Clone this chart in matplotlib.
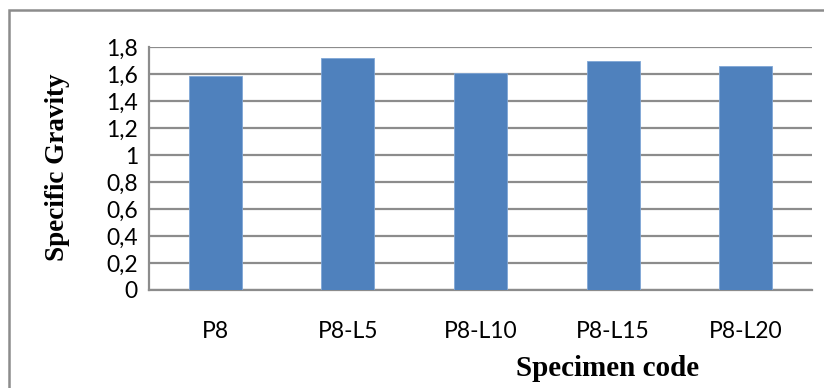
import matplotlib
matplotlib.use("Agg")
import matplotlib.pyplot as plt
from matplotlib.patches import Rectangle

categories = ["P8", "P8-L5", "P8-L10", "P8-L15", "P8-L20"]
values = [1.585, 1.715, 1.61, 1.70, 1.66]
yticks = [0, 0.2, 0.4, 0.6, 0.8, 1.0, 1.2, 1.4, 1.6, 1.8]
ytick_labels = ["0", "0,2", "0,4", "0,6", "0,8", "1", "1,2", "1,4", "1,6", "1,8"]

W, H = 824, 388
fig = plt.figure(figsize=(W / 100, H / 100), dpi=100)
ax = fig.add_axes([149 / W, 1 - 290 / H, (812 - 149) / W, (290 - 47) / H])

x = list(range(len(categories)))
ax.bar(x, values, width=0.40, color="#4f81bd", edgecolor="#7fa6d6", linewidth=0.6, zorder=3)
ax.set_xlim(-0.5, len(categories) - 0.5)
ax.set_ylim(0, 1.8)
ax.set_yticks(yticks)
ax.set_yticklabels(ytick_labels, fontfamily="Lato", fontsize=16.5)
ax.set_xticks(x)
ax.set_xticklabels(categories, fontfamily="Lato", fontsize=16.5)
ax.tick_params(axis="both", length=0)
ax.tick_params(axis="x", pad=22)
ax.tick_params(axis="y", pad=8)
ax.yaxis.grid(True, color="#8c8c8c", linewidth=1.6, zorder=0)
for s in ["top", "right"]:
    ax.spines[s].set_visible(False)
ax.spines["left"].set_color("#8c8c8c")
ax.spines["left"].set_linewidth(1.6)
ax.spines["bottom"].set_color("#8c8c8c")
ax.spines["bottom"].set_linewidth(1.6)

fig.text(57 / W, 1 - 167 / H, "Specific Gravity", rotation=90, ha="center", va="center",
         fontfamily="Liberation Serif", fontweight="bold", fontsize=19.5)
fig.text(608 / W, 1 - 368 / H, "Specimen code", ha="center", va="center",
         fontfamily="Liberation Serif", fontweight="bold", fontsize=21)

fig.patches.append(Rectangle((9 / W, -0.1), 1.2, 1 - 10 / H + 0.1, transform=fig.transFigure,
                             fill=False, edgecolor="#8c8c8c", linewidth=1.8))

fig.savefig("out.png", dpi=100)
